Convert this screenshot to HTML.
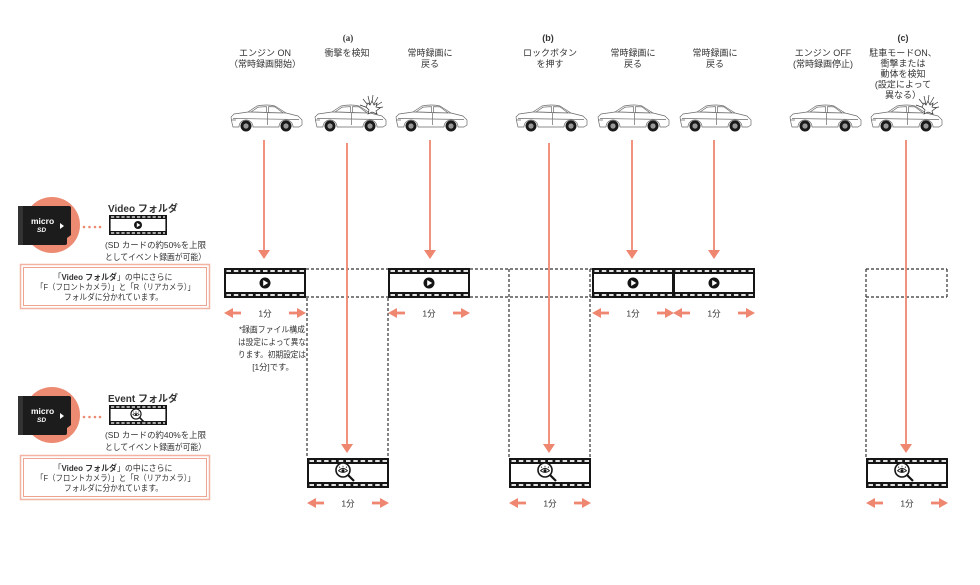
<!DOCTYPE html>
<html><head><meta charset="utf-8">
<style>
html,body{margin:0;padding:0;background:#fff;}
svg{display:block;font-family:"Liberation Sans","Noto Sans CJK JP",sans-serif;}
text{fill:#333;}
</style></head><body>
<svg width="980" height="585" viewBox="0 0 980 585" xmlns="http://www.w3.org/2000/svg">
<defs>
<g id="film">
<rect x="1" y="1" width="80" height="28" fill="#fff" stroke="#151515" stroke-width="2"/>
<rect x="0" y="0" width="82" height="6" fill="#151515"/>
<rect x="0" y="24" width="82" height="6" fill="#151515"/>
<line x1="2.5" y1="3" x2="80" y2="3" stroke="#fff" stroke-width="1.8" stroke-dasharray="4.5 2.8"/>
<line x1="2.5" y1="27" x2="80" y2="27" stroke="#fff" stroke-width="1.8" stroke-dasharray="4.5 2.8"/>
</g>
<g id="sfilm">
<rect x="0.8" y="0.8" width="56.4" height="18.4" fill="#fff" stroke="#151515" stroke-width="1.6"/>
<rect x="0" y="0" width="58" height="4" fill="#151515"/>
<rect x="0" y="16" width="58" height="4" fill="#151515"/>
<line x1="2" y1="2" x2="56" y2="2" stroke="#fff" stroke-width="1.3" stroke-dasharray="3.2 2"/>
<line x1="2" y1="18" x2="56" y2="18" stroke="#fff" stroke-width="1.3" stroke-dasharray="3.2 2"/>
</g>
<g id="play"><circle r="5.5" fill="#151515"/><path d="M-1.8,-3 L3.2,0 L-1.8,3Z" fill="#fff"/></g>
<g id="mag">
<line x1="4.5" y1="4.5" x2="11" y2="11" stroke="#151515" stroke-width="2.2"/>
<circle r="7" fill="#fff" stroke="#151515" stroke-width="1.6"/>
<path d="M-4.5,0.8 Q0,-3.8 4.5,0.8 Q0,4 -4.5,0.8Z" fill="none" stroke="#151515" stroke-width="0.9"/>
<circle cx="0" cy="0.8" r="1.5" fill="#151515"/>
<path d="M-3,-2 L-3.8,-3.5 M0,-2.6 L0,-4.2 M3,-2 L3.8,-3.5" stroke="#151515" stroke-width="0.7"/>
</g>
<g id="harr" fill="#EE8670">
<polygon points="0,0 9,-5 9,5"/>
<rect x="8" y="-1.4" width="9" height="2.8"/>
<polygon points="82,0 73,-5 73,5"/>
<rect x="65" y="-1.4" width="9" height="2.8"/>
</g>
<g id="car" fill="none" stroke="#6a6a6a" stroke-width="0.7" stroke-linejoin="round">
<path fill="#fff" d="M3,20 L2,14 L5,11 L19,9 L28,3 Q38,1 46,3 L57,10 L69,13 L73,17 L73,22 L70,24 L64,24 A7,7 0 0 0 50,24 L24,24 A7,7 0 0 0 10,24 L4,24 Z"/>
<path d="M22,9 L29,4.2 L37.5,3.6 L37.5,9.3 Z"/>
<path d="M39.5,3.6 L46,3.9 L54,9.8 L39.5,9.8 Z"/>
<path d="M38.5,9.5 V22 M4,15.5 L70,16.5 M19,9 L57,10 M2,17 L7,17"/>
<circle cx="17" cy="23" r="5.5" fill="#1a1a1a" stroke="none"/>
<circle cx="57" cy="23" r="5.5" fill="#1a1a1a" stroke="none"/>
<circle cx="17" cy="23" r="2.6" fill="#999" stroke="none"/>
<circle cx="57" cy="23" r="2.6" fill="#999" stroke="none"/>
</g>
<g id="crash" stroke="#333" stroke-width="0.7" fill="none">
<path d="M58,6 L50,-4 M58,6 L55,-7 M58,6 L60,-8 M58,6 L65,-6 M58,6 L69,-1 M58,6 L70,4 M58,6 L47,2"/>
<path d="M53,4 L55,0 L57,2 L59,-2 L61,2 L64,0 L63,4 L67,5 L63,8 L64,11 L59,9 L55,11 L56,7 Z" fill="#fff"/>
</g>
</defs>

<!-- top labels -->
<g font-size="9" text-anchor="middle">
<text x="348" y="41" font-weight="bold" font-family="Liberation Serif, serif">(a)</text>
<text x="548" y="41" font-weight="bold">(b)</text>
<text x="903" y="41" font-weight="bold">(c)</text>
<text x="265" y="56">エンジン ON</text>
<text x="265" y="67">（常時録画開始）</text>
<text x="347" y="56">衝撃を検知</text>
<text x="430" y="56">常時録画に</text>
<text x="430" y="67">戻る</text>
<text x="550" y="56">ロックボタン</text>
<text x="550" y="67">を押す</text>
<text x="633" y="56">常時録画に</text>
<text x="633" y="67">戻る</text>
<text x="715" y="56">常時録画に</text>
<text x="715" y="67">戻る</text>
<text x="823" y="56">エンジン OFF</text>
<text x="823" y="67">(常時録画停止)</text>
<text x="903" y="56">駐車モードON、</text>
<text x="903" y="66.5">衝撃または</text>
<text x="903" y="77">動体を検知</text>
<text x="903" y="87.5">(設定によって</text>
<text x="903" y="98">異なる）</text>
</g>

<!-- cars -->
<use href="#car" x="229" y="103"/>
<use href="#car" x="313" y="103"/>
<use href="#crash" x="313" y="103"/>
<use href="#car" x="394" y="103"/>
<use href="#car" x="514" y="103"/>
<use href="#car" x="596" y="103"/>
<use href="#car" x="678" y="103"/>
<use href="#car" x="788" y="103"/>
<use href="#car" x="869" y="103"/>
<use href="#crash" x="869" y="103"/>

<!-- dashed lines -->
<g stroke="#333" stroke-width="1.2" stroke-dasharray="3 2" fill="none">
<path d="M306,269 H388 M306,297 H388 M470,269 H592 M470,297 H592 M866,269 H947 M866,297 H947 M947,269 V297"/>
<path d="M307,298 V458 M388,298 V458 M509,269 V458 M590,269 V458 M866,269 V458"/>
</g>

<!-- film strips row 1 -->
<use href="#film" x="224" y="268"/>
<use href="#film" x="388" y="268"/>
<use href="#film" x="592" y="268"/>
<use href="#film" x="673" y="268"/>
<use href="#play" x="265" y="283"/>
<use href="#play" x="429" y="283"/>
<use href="#play" x="633" y="283"/>
<use href="#play" x="714" y="283"/>

<!-- film strips row 2 -->
<use href="#film" x="307" y="458"/>
<use href="#film" x="509" y="458"/>
<use href="#film" x="866" y="458"/>
<use href="#mag" x="343" y="470"/>
<use href="#mag" x="545" y="470"/>
<use href="#mag" x="902" y="470"/>

<!-- vertical arrows -->
<g stroke="#EE8670" stroke-width="1.8">
<line x1="264" y1="140" x2="264" y2="252"/>
<line x1="347" y1="143" x2="347" y2="446"/>
<line x1="430" y1="140" x2="430" y2="252"/>
<line x1="549" y1="143" x2="549" y2="446"/>
<line x1="632" y1="140" x2="632" y2="252"/>
<line x1="714" y1="140" x2="714" y2="252"/>
<line x1="906" y1="140" x2="906" y2="446"/>
</g>
<g fill="#EE8670">
<polygon points="258,250 270,250 264,259"/>
<polygon points="424,250 436,250 430,259"/>
<polygon points="626,250 638,250 632,259"/>
<polygon points="708,250 720,250 714,259"/>
<polygon points="341,444 353,444 347,453"/>
<polygon points="543,444 555,444 549,453"/>
<polygon points="900,444 912,444 906,453"/>
</g>

<!-- horizontal 1分 arrows -->
<use href="#harr" x="224" y="313"/>
<use href="#harr" x="388" y="313"/>
<use href="#harr" x="592" y="313"/>
<use href="#harr" x="673" y="313"/>
<use href="#harr" x="307" y="503"/>
<use href="#harr" x="509" y="503"/>
<use href="#harr" x="866" y="503"/>
<g font-size="8.5" text-anchor="middle">
<text x="265" y="316.5">1分</text>
<text x="429" y="316.5">1分</text>
<text x="633" y="316.5">1分</text>
<text x="714" y="316.5">1分</text>
<text x="348" y="506.5">1分</text>
<text x="550" y="506.5">1分</text>
<text x="907" y="506.5">1分</text>
</g>

<!-- note -->
<g font-size="8.3" text-anchor="middle">
<text x="272" y="332.5" textLength="66" lengthAdjust="spacingAndGlyphs">*録画ファイル構成</text>
<text x="272" y="345" textLength="68" lengthAdjust="spacingAndGlyphs">は設定によって異な</text>
<text x="272" y="357.5" textLength="68" lengthAdjust="spacingAndGlyphs">ります。初期設定は</text>
<text x="273" y="370">[1分]です。</text>
</g>

<!-- left: Video folder -->
<g>
<circle cx="52" cy="225" r="28" fill="#EC8A72"/>
<path d="M20,206 H69 Q71,206 71,208 V235 L67,238 V243 Q67,245 65,245 H20 Q18,245 18,243 V208 Q18,206 20,206 Z" fill="#1c1c1c"/>
<rect x="18" y="206" width="5" height="39" fill="#333"/>
<text x="31" y="224" font-size="8.5" font-weight="bold" style="fill:#fff">micro</text>
<text x="37" y="232" font-size="6.5" font-weight="bold" font-style="italic" style="fill:#fff">SD</text>
<polygon points="60,223 60,229 64,226" fill="#fff"/>
<g fill="#EC8A72"><circle cx="84" cy="227" r="1.3"/><circle cx="89.5" cy="227" r="1.3"/><circle cx="95" cy="227" r="1.3"/><circle cx="100" cy="227" r="1.3"/></g>
<use href="#sfilm" x="109" y="215"/>
<circle cx="138" cy="225" r="4" fill="#151515"/><path d="M136.8,222.8 L140.4,225 L136.8,227.2Z" fill="#fff"/>
<text x="108" y="212" font-size="10" font-weight="bold">Video フォルダ</text>
<text x="105" y="248" font-size="8.5" textLength="101" lengthAdjust="spacingAndGlyphs">(SD カードの約50%を上限</text>
<text x="105" y="260" font-size="8.5" textLength="101" lengthAdjust="spacingAndGlyphs">としてイベント録画が可能）</text>
<rect x="20.5" y="264.5" width="189" height="44" fill="#fff" stroke="#F3B3A3" stroke-width="1.5"/>
<rect x="23.5" y="267.5" width="183" height="38" fill="none" stroke="#EE9A86" stroke-width="0.9"/>
<g font-size="8.3" text-anchor="middle">
<text x="113" y="280" textLength="119" lengthAdjust="spacingAndGlyphs">「<tspan font-weight="bold">Video フォルダ</tspan>」の中にさらに</text>
<text x="115.5" y="290" textLength="159" lengthAdjust="spacingAndGlyphs">「F（フロントカメラ）」と「R（リアカメラ）」</text>
<text x="113.5" y="300" textLength="99" lengthAdjust="spacingAndGlyphs">フォルダに分かれています。</text>
</g>
</g>

<!-- left: Event folder -->
<g transform="translate(0,190)">
<circle cx="52" cy="225" r="28" fill="#EC8A72"/>
<path d="M20,206 H69 Q71,206 71,208 V235 L67,238 V243 Q67,245 65,245 H20 Q18,245 18,243 V208 Q18,206 20,206 Z" fill="#1c1c1c"/>
<rect x="18" y="206" width="5" height="39" fill="#333"/>
<text x="31" y="224" font-size="8.5" font-weight="bold" style="fill:#fff">micro</text>
<text x="37" y="232" font-size="6.5" font-weight="bold" font-style="italic" style="fill:#fff">SD</text>
<polygon points="60,223 60,229 64,226" fill="#fff"/>
<g fill="#EC8A72"><circle cx="84" cy="227" r="1.3"/><circle cx="89.5" cy="227" r="1.3"/><circle cx="95" cy="227" r="1.3"/><circle cx="100" cy="227" r="1.3"/></g>
<use href="#sfilm" x="109" y="215"/>
<g transform="translate(136,224) scale(0.72)"><use href="#mag"/></g>
<text x="108" y="212" font-size="10" font-weight="bold">Event フォルダ</text>
<text x="105" y="248" font-size="8.5" textLength="101" lengthAdjust="spacingAndGlyphs">(SD カードの約40%を上限</text>
<text x="105" y="260" font-size="8.5" textLength="101" lengthAdjust="spacingAndGlyphs">としてイベント録画が可能）</text>
<rect x="20.5" y="265.5" width="189" height="44" fill="#fff" stroke="#F3B3A3" stroke-width="1.5"/>
<rect x="23.5" y="268.5" width="183" height="38" fill="none" stroke="#EE9A86" stroke-width="0.9"/>
<g font-size="8.3" text-anchor="middle">
<text x="113" y="281" textLength="119" lengthAdjust="spacingAndGlyphs">「<tspan font-weight="bold">Video フォルダ</tspan>」の中にさらに</text>
<text x="115.5" y="291" textLength="159" lengthAdjust="spacingAndGlyphs">「F（フロントカメラ）」と「R（リアカメラ）」</text>
<text x="113.5" y="301" textLength="99" lengthAdjust="spacingAndGlyphs">フォルダに分かれています。</text>
</g>
</g>
</svg>
</body></html>
